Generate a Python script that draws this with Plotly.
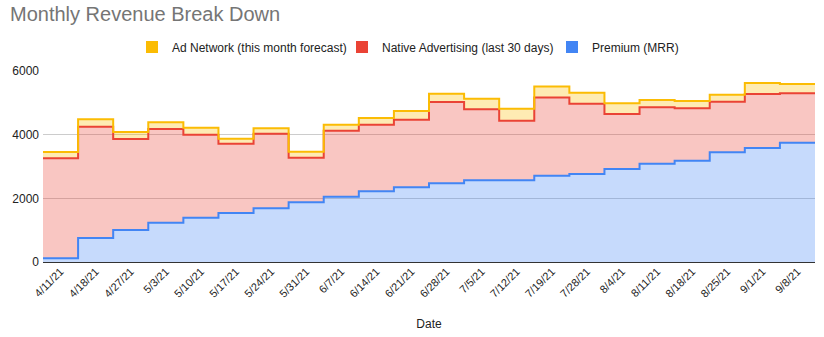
import plotly.graph_objects as go

dates = ["4/11/21", "4/18/21", "4/27/21", "5/3/21", "5/10/21", "5/17/21", "5/24/21",
         "5/31/21", "6/7/21", "6/14/21", "6/21/21", "6/28/21", "7/5/21", "7/12/21",
         "7/19/21", "7/28/21", "8/4/21", "8/11/21", "8/18/21", "8/25/21", "9/1/21", "9/8/21"]
premium = [115, 754, 1005, 1235, 1393, 1539, 1686, 1874, 2052, 2220, 2345, 2471,
           2565, 2565, 2712, 2764, 2921, 3089, 3183, 3445, 3581, 3748]
native = [3142, 3497, 2858, 2943, 2607, 2178, 2345, 1403, 2073, 2094, 2126, 2555,
          2230, 1874, 2455, 2209, 1728, 1769, 1644, 1591, 1696, 1550]
ad_network = [198, 230, 220, 209, 219, 157, 167, 189, 189, 209, 272, 261,
              335, 377, 345, 346, 335, 230, 230, 220, 345, 293]

FONT = "Liberation Sans, Arial, sans-serif"
n = len(dates)
xs = [i - 0.5 for i in range(n)] + [n - 0.5]

def ext(v):
    return list(v) + [v[-1]]

series = [
    ("Premium (MRR)", premium, "#4285F4", "rgba(66,133,244,0.3)"),
    ("Native Advertising (last 30 days)", native, "#EA4335", "rgba(234,67,53,0.3)"),
    ("Ad Network (this month forecast)", ad_network, "#FBBC04", "rgba(251,188,4,0.3)"),
]

fig = go.Figure()
for name, vals, col, fillc in series:
    fig.add_trace(go.Scatter(
        x=xs, y=ext(vals), mode="lines", stackgroup="one", line_shape="hv",
        line=dict(color=col, width=2), fillcolor=fillc, name=name,
        showlegend=False, hoverinfo="skip"))
for name, vals, col, fillc in reversed(series):
    fig.add_trace(go.Scatter(
        x=[None], y=[None], mode="markers", name=name,
        marker=dict(symbol="square", size=12, color=col)))

fig.update_layout(
    width=824, height=337,
    margin=dict(l=43, r=9, t=71, b=75, autoexpand=False),
    paper_bgcolor="white", plot_bgcolor="white",
    font=dict(family=FONT, size=12, color="#222222"),
    title=dict(text="Monthly Revenue Break Down", font=dict(size=20, color="#757575", family=FONT),
               x=10 / 824, xanchor="left", xref="container",
               y=1 - 7 / 337, yanchor="top", yref="container"),
    legend=dict(orientation="h", traceorder="normal", entrywidth=165, entrywidthmode="pixels",
                x=(132 - 43) / 772, xanchor="left", y=(262 - 47) / 191, yanchor="middle",
                font=dict(size=12, color="#222222", family=FONT), itemclick=False),
    xaxis=dict(range=[-0.5, n - 0.5], tickmode="array", tickvals=list(range(n)),
               ticktext=dates, tickangle=-45, showgrid=False, zeroline=False,
               ticks="", tickfont=dict(size=11, color="#222222"),
               title=dict(text="Date", font=dict(size=12, color="#222222"), standoff=20),
               fixedrange=True),
    yaxis=dict(range=[0, 6000], tickvals=[0, 2000, 4000, 6000], showgrid=True,
               gridcolor="#cccccc", zeroline=True, zerolinecolor="#333333", zerolinewidth=1,
               ticks="", ticklabelstandoff=3, tickfont=dict(size=12, color="#222222"),
               fixedrange=True),
)

fig.write_html("out.html")
